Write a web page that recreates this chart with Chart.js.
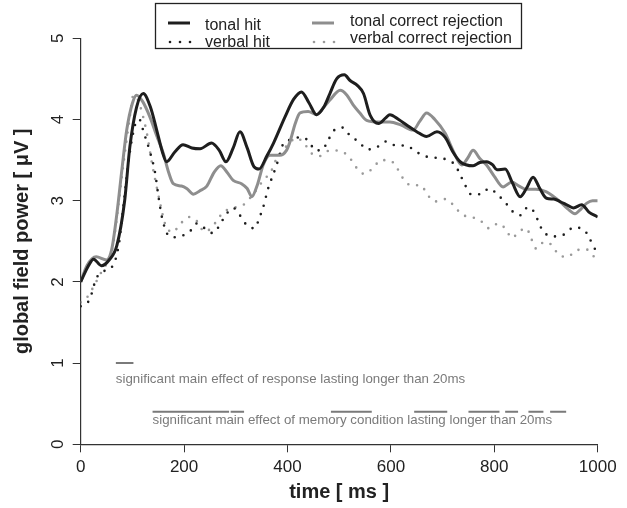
<!DOCTYPE html>
<html>
<head>
<meta charset="utf-8">
<script src="https://cdn.jsdelivr.net/npm/chart.js@4.4.1/dist/chart.umd.min.js"></script>
<style>
html, body { margin: 0; padding: 0; background: #fff; }
#wrap { width: 627px; height: 508px; position: relative; }
</style>
</head>
<body>
<div id="wrap"><canvas id="gfp"></canvas></div>
<script>
// times in ms, global field power in µV
const tonalHitT = [0,15,25,40,55,70,85,95,108,121,135,147,158,166,182,198,215,231,253,268,281,295,308,322,335,345,360,373,395,412,427,442,456,470,482,495,510,521,535,547,560,576,590,598,615,631,650,669,689,705,720,734,759,772,785,797,805,821,835,850,862,875,888,901,915,927,940,953,969,983,1000];
const tonalHitV = [2.0,2.2,2.28,2.2,2.27,2.45,3.0,3.66,4.15,4.32,4.15,3.87,3.6,3.48,3.6,3.69,3.65,3.64,3.71,3.62,3.48,3.65,3.85,3.65,3.42,3.39,3.55,3.71,4.03,4.25,4.34,4.2,4.06,4.15,4.32,4.5,4.55,4.48,4.42,4.32,4.05,3.95,4.02,4.06,4.0,3.93,3.85,3.79,3.85,3.78,3.6,3.48,3.43,3.47,3.48,3.44,3.38,3.39,3.22,3.05,3.15,3.29,3.15,3.03,3.02,2.99,2.95,2.91,2.95,2.86,2.8];

const tonalCrT = [0,12,30,50,60,70,80,89,100,108,120,134,147,160,170,179,195,205,218,230,244,258,271,283,295,311,322,331,342,353,366,385,398,405,415,424,440,456,470,482,502,515,527,540,553,576,598,620,643,656,669,685,705,720,737,748,759,772,785,800,817,834,848,862,880,901,915,927,942,956,968,979,990,1000];
const tonalCrV = [2.0,2.2,2.31,2.27,2.4,2.84,3.4,3.87,4.2,4.3,4.22,4.03,3.8,3.58,3.35,3.21,3.18,3.15,3.08,3.12,3.18,3.35,3.43,3.35,3.25,3.21,3.15,3.05,3.2,3.44,3.56,3.56,3.62,3.73,3.95,4.08,4.1,4.06,4.15,4.24,4.36,4.3,4.18,4.08,3.99,3.97,3.97,3.93,3.87,3.98,4.08,4.0,3.83,3.62,3.44,3.52,3.62,3.52,3.44,3.3,3.17,3.23,3.18,3.14,3.14,3.11,3.05,2.99,2.9,2.84,2.9,2.97,3.0,3.0];

const verbalHitT = [0,17,30,44,60,73,82,92,102,110,115,121,134,144,150,157,163,171,182,192,211,224,240,256,269,280,295,308,321,337,345,353,363,371,379,391,405,424,442,453,466,479,489,507,521,539,554,573,590,610,629,647,665,685,706,724,734,743,755,774,790,807,821,835,850,865,879,887,898,915,937,953,972,984,993,1000];
const verbalHitV = [1.7,1.78,2.04,2.13,2.18,2.43,2.9,3.46,3.85,4.0,3.99,3.86,3.6,3.34,3.07,2.8,2.66,2.56,2.55,2.56,2.62,2.72,2.66,2.6,2.7,2.82,2.91,2.82,2.7,2.66,2.78,2.92,3.16,3.3,3.44,3.69,3.75,3.78,3.73,3.62,3.62,3.75,3.86,3.9,3.8,3.72,3.63,3.66,3.73,3.68,3.68,3.61,3.55,3.53,3.51,3.44,3.32,3.2,3.08,3.08,3.15,3.07,2.98,2.87,2.82,2.92,2.84,2.71,2.6,2.56,2.59,2.67,2.65,2.54,2.42,2.38];

const verbalCrT = [0,11,23,40,52,63,72,82,95,102,110,118,128,139,147,155,163,178,192,210,226,239,252,264,276,295,315,337,353,369,376,395,418,434,447,463,482,503,520,533,548,565,581,600,613,624,639,658,670,685,706,723,737,756,774,790,808,822,834,848,862,871,881,896,912,925,942,959,978,993,1000];
const verbalCrV = [1.75,1.8,1.92,2.12,2.25,2.47,2.9,3.42,4.03,4.3,4.25,4.1,3.83,3.42,3.17,2.93,2.72,2.61,2.71,2.8,2.74,2.62,2.66,2.76,2.86,2.91,2.95,3.11,3.25,3.37,3.48,3.65,3.77,3.69,3.58,3.55,3.62,3.61,3.53,3.41,3.33,3.4,3.5,3.49,3.39,3.27,3.19,3.19,3.08,2.99,3.02,2.93,2.83,2.8,2.75,2.66,2.72,2.65,2.54,2.62,2.66,2.54,2.41,2.49,2.45,2.33,2.31,2.39,2.4,2.31,2.28];

const yTicks = [0, 1, 2, 3, 4, 5];
const seriesNames = ['tonal hit', 'verbal hit', 'tonal correct rejection', 'verbal correct rejection'];

// significant intervals [start, end] in ms and the level they are drawn at
const responseSig = [[68, 102]];
const memorySig = [[139, 287], [290, 316], [484, 563], [645, 709], [750, 810], [821, 846], [866, 895], [908, 939]];
const sigLevels = [1.0, 0.4];
const sigTexts = ['significant main effect of response lasting longer than 20ms',
                  'significant main effect of memory condition lasting longer than 20ms'];
const sigTextLevels = [0.8, 0.29];

const FONT = '"Liberation Sans", Arial, Helvetica, sans-serif';
Chart.defaults.font.family = FONT;

const BLACK = '#1e1e1e';
const GREY = '#8e8e8e';
const GREY_DOT = '#9a9a9a';

function pts(t, v) {
    return t.map((x, i) => ({x: x, y: v[i]}));
}

function sigPts(segs, level) {
    const out = [];
    segs.forEach(s => {
        out.push({x: s[0], y: level}, {x: s[1], y: level}, {x: s[1], y: null});
    });
    return out;
}

const solid = (color) => ({borderColor: color, borderWidth: 3, cubicInterpolationMode: 'monotone'});
const dotted = (color) => ({borderColor: color, borderWidth: 2.6, borderDash: [0, 9], borderCapStyle: 'round', cubicInterpolationMode: 'monotone'});

const data = {
    datasets: [
        Object.assign({label: seriesNames[0], data: pts(tonalHitT, tonalHitV)}, solid(BLACK)),
        Object.assign({label: seriesNames[2], data: pts(tonalCrT, tonalCrV)}, solid(GREY)),
        Object.assign({label: seriesNames[1], data: pts(verbalHitT, verbalHitV)}, dotted(BLACK)),
        Object.assign({label: seriesNames[3], data: pts(verbalCrT, verbalCrV)}, dotted(GREY_DOT)),
        {label: 'response', data: sigPts(responseSig, sigLevels[0]), borderColor: '#7a7a7a', borderWidth: 2, spanGaps: false},
        {label: 'memory', data: sigPts(memorySig, sigLevels[1]), borderColor: '#7a7a7a', borderWidth: 2, spanGaps: false}
    ]
};

// y tick labels (rotated like R), annotation texts and the boxed legend
const extras = {
    id: 'extras',
    afterDraw(chart) {
        const ctx = chart.ctx;
        const xs = chart.scales.x, ys = chart.scales.y;
        ctx.save();

        ctx.fillStyle = '#222';
        ctx.font = '17px ' + FONT;
        ctx.textAlign = 'center';
        ctx.textBaseline = 'middle';
        yTicks.forEach(v => {
            ctx.save();
            ctx.translate(58, ys.getPixelForValue(v));
            ctx.rotate(-Math.PI / 2);
            ctx.fillText(String(v), 0, 0);
            ctx.restore();
        });

        ctx.fillStyle = '#7a7a7a';
        ctx.font = '13.3px ' + FONT;
        ctx.textAlign = 'left';
        ctx.fillText(sigTexts[0], xs.getPixelForValue(responseSig[0][0]), ys.getPixelForValue(sigTextLevels[0]));
        ctx.fillText(sigTexts[1], xs.getPixelForValue(memorySig[0][0]), ys.getPixelForValue(sigTextLevels[1]));

        // legend
        ctx.strokeStyle = '#222';
        ctx.lineWidth = 1.3;
        ctx.strokeRect(155.5, 3.5, 366, 45);
        const rows = [
            {x: 168, tx: 205, y: 23, ty: 26, color: BLACK, dash: false, text: seriesNames[0]},
            {x: 168, tx: 205, y: 42, ty: 43, color: BLACK, dash: true, text: seriesNames[1]},
            {x: 312, tx: 350, y: 23, ty: 22, color: GREY, dash: false, text: seriesNames[2]},
            {x: 312, tx: 350, y: 42, ty: 39, color: GREY_DOT, dash: true, text: seriesNames[3]}
        ];
        ctx.font = '16px ' + FONT;
        ctx.fillStyle = '#222';
        rows.forEach(r => {
            ctx.strokeStyle = r.color;
            if (r.dash) {
                ctx.fillStyle = r.color;
                [0, 10, 20].forEach(d => {
                    ctx.beginPath();
                    ctx.arc(r.x + 2 + d, r.y, 1.3, 0, Math.PI * 2);
                    ctx.fill();
                });
            } else {
                ctx.lineWidth = 3;
                ctx.beginPath();
                ctx.moveTo(r.x, r.y);
                ctx.lineTo(r.x + 22, r.y);
                ctx.stroke();
            }
            ctx.fillStyle = '#222';
            ctx.fillText(r.text, r.tx, r.ty);
        });
        ctx.restore();
    }
};

const config = {
    type: 'line',
    data: data,
    options: {
        responsive: true,
        maintainAspectRatio: false,
        animation: false,
        layout: {padding: {top: 38.3, right: 29.3, left: 0, bottom: 0}},
        elements: {point: {radius: 0}},
        plugins: {legend: {display: false}, tooltip: {enabled: false}},
        scales: {
            x: {
                type: 'linear', min: 0, max: 1000,
                ticks: {stepSize: 200, color: '#222', font: {size: 17}, padding: 5, maxRotation: 0,
                        callback: v => String(v)},
                grid: {drawOnChartArea: false, tickLength: 8, color: '#333'},
                border: {color: '#333', width: 1.2},
                title: {display: true, text: 'time [ ms ]', color: '#222', font: {size: 20, weight: 'bold'}, padding: {top: 0, bottom: 4}},
                afterFit: s => { s.height = 63.7; }
            },
            y: {
                min: 0, max: 5,
                ticks: {display: false, stepSize: 1},
                grid: {drawOnChartArea: false, tickLength: 8, color: '#333'},
                border: {color: '#333', width: 1.2},
                title: {display: true, text: 'global field power [ μV ]', color: '#222', font: {size: 20, weight: 'bold'}, padding: {top: 10, bottom: 0}},
                afterFit: s => { s.width = 80.7; }
            }
        }
    },
    plugins: [extras]
};

new Chart(document.getElementById('gfp'), config);
</script>
</body>
</html>
